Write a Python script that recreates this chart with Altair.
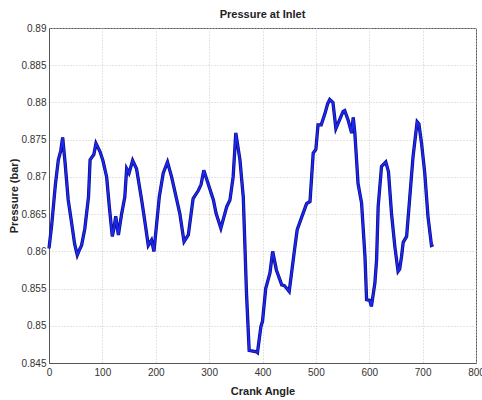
import altair as alt
import pandas as pd

crank_angle = [0, 5, 12, 17.5, 22, 25.6, 30, 36, 42, 48, 53, 57, 61, 67, 74, 77, 81, 84, 88, 95.5, 101, 108,
               113, 118.6, 122, 125, 130, 136, 142, 145.5, 150, 156.7, 164, 173.6, 180, 186, 192, 196.6,
               206.6, 214, 222, 229.7, 236, 245, 253, 261, 270, 280, 285, 290, 298, 308, 313, 322, 333,
               339, 345, 350, 357.7, 364, 370, 375, 382, 389, 390.6, 397, 400, 406, 414, 419, 426, 436,
               441, 450, 457.5, 460.7, 465, 476, 482.6, 489, 495, 500, 504, 510, 517, 522, 526, 532,
               537.5, 544, 551, 554, 560.5, 567, 570, 573, 579, 585.6, 592, 595, 601, 604, 610.5, 613.7,
               616.7, 623, 631, 636, 641.7, 648, 654, 657, 660.5, 663.6, 670, 676, 682, 689.7, 693, 698,
               704, 710, 716.6, 720]
pressure = [0.8604, 0.8635, 0.8690, 0.8723, 0.8735, 0.8753, 0.8720, 0.8669, 0.8640, 0.8610, 0.8595, 0.8602,
            0.8608, 0.8630, 0.8673, 0.8723, 0.8727, 0.8730, 0.8745, 0.8734, 0.8722, 0.8700, 0.8660, 0.8620,
            0.8632, 0.8647, 0.8622, 0.8650, 0.8673, 0.8711, 0.8705, 0.8722, 0.8711, 0.8669, 0.8638, 0.8608,
            0.8615, 0.8600, 0.8673, 0.8705, 0.8720, 0.8700, 0.8680, 0.8651, 0.8613, 0.8622, 0.8671, 0.8682,
            0.8690, 0.8709, 0.8691, 0.8669, 0.8651, 0.8631, 0.8660, 0.8669, 0.8700, 0.8759, 0.8723, 0.8673,
            0.8544, 0.8467, 0.8466, 0.8465, 0.8464, 0.8499, 0.8506, 0.8550, 0.8571, 0.8600, 0.8575, 0.8555,
            0.8554, 0.8546, 0.8588, 0.8606, 0.8629, 0.8651, 0.8664, 0.8667, 0.8732, 0.8737, 0.8770, 0.8770,
            0.8785, 0.8798, 0.8804, 0.8800, 0.8765, 0.8776, 0.8788, 0.8789, 0.8776, 0.8759, 0.8780, 0.8759,
            0.8691, 0.8665, 0.8593, 0.8535, 0.8534, 0.8526, 0.8557, 0.8588, 0.8660, 0.8714, 0.8720, 0.8707,
            0.8651, 0.8606, 0.8573, 0.8576, 0.8593, 0.8612, 0.8620, 0.8673, 0.8727, 0.8774, 0.8771, 0.8745,
            0.8705, 0.8647, 0.8608, 0.8609]
x_ticks = [0, 100, 200, 300, 400, 500, 600, 700, 800]
y_ticks = [0.845, 0.85, 0.855, 0.86, 0.865, 0.87, 0.875, 0.88, 0.885, 0.89]

df = pd.DataFrame({"angle": crank_angle, "p": pressure})

FONT = "Liberation Sans"

common = dict(grid=True, gridDash=[1, 2], gridColor="#c8c8c8", ticks=False,
              labelOverlap=False, labelFlush=False, labelBound=False,
              domainColor="#555555", labelColor="#333333",
              labelFont=FONT, labelFontSize=10, titleFont=FONT,
              titleFontSize=11, titleFontWeight="bold", titleColor="#222222")

x_enc = alt.X("angle:Q", scale=alt.Scale(domain=[0, 800], nice=False),
              axis=alt.Axis(values=x_ticks, title="Crank Angle", format="d",
                            labelPadding=4, titlePadding=8, **common))
y_enc = alt.Y("p:Q", scale=alt.Scale(domain=[0.845, 0.89], nice=False, zero=False),
              axis=alt.Axis(values=y_ticks, title="Pressure (bar)", format=".3~f",
                            labelPadding=3, titlePadding=1, **common))

base = alt.Chart(df).encode(x=x_enc, y=y_enc)
outer = base.mark_line(color="#0a0a80", strokeWidth=3.3)
inner = base.mark_line(color="#1c28f0", strokeWidth=1.9)

chart = alt.layer(outer, inner).properties(
    width=427, height=335,
    title=alt.TitleParams("Pressure at Inlet", font=FONT, fontSize=11, fontWeight="bold",
                          color="#222222", offset=3),
    autosize=alt.AutoSizeParams(type="none"),
    padding={"left": 49, "top": 28, "right": 6, "bottom": 37},
    background="white",
).configure_view(stroke="#555555", strokeWidth=1)

chart.save("out.html", embed_options={"renderer": "svg", "actions": False})
